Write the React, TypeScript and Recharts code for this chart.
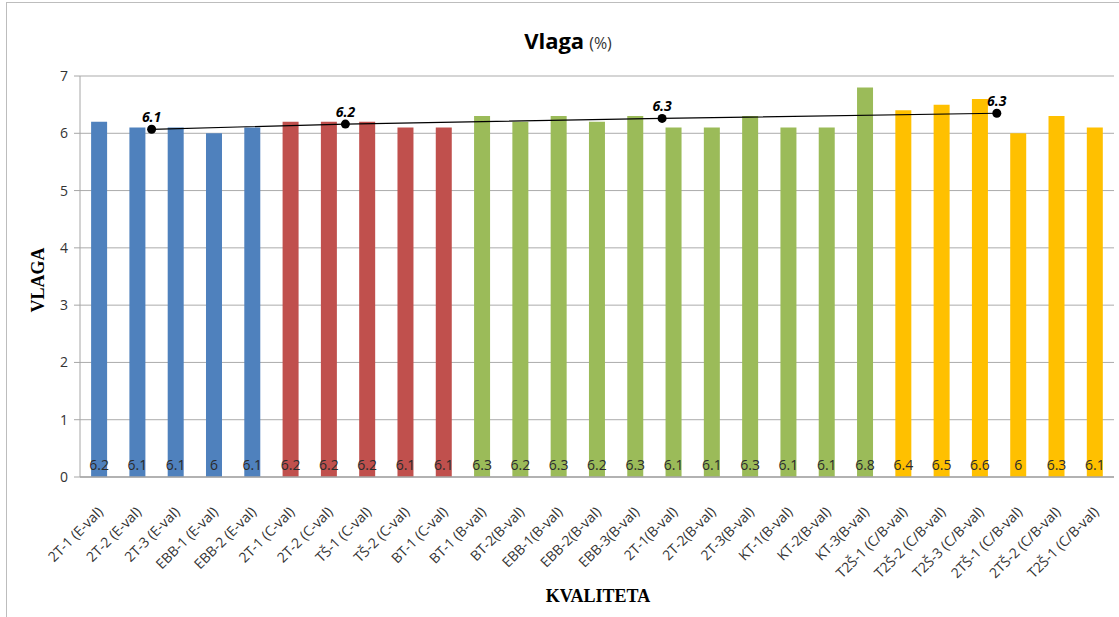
import React from 'react';
import {
  ComposedChart,
  Bar,
  Scatter,
  XAxis,
  YAxis,
  CartesianGrid,
  Cell,
  LabelList,
} from 'recharts';

const categories = [
  '2T-1 (E-val)', '2T-2 (E-val)', '2T-3 (E-val)', 'EBB-1 (E-val)', 'EBB-2 (E-val)',
  '2T-1 (C-val)', '2T-2 (C-val)', 'TŠ-1 (C-val)', 'TŠ-2 (C-val)', 'BT-1 (C-val)',
  'BT-1 (B-val)', 'BT-2(B-val)', 'EBB-1(B-val)', 'EBB-2(B-val)', 'EBB-3(B-val)',
  '2T-1(B-val)', '2T-2(B-val)', '2T-3(B-val)', 'KT-1(B-val)', 'KT-2(B-val)', 'KT-3(B-val)',
  'T2Š-1 (C/B-val)', 'T2Š-2 (C/B-val)', 'T2Š-3 (C/B-val)', '2TŠ-1 (C/B-val)',
  '2TŠ-2 (C/B-val)', 'T2Š-1 (C/B-val)',
];

const moisture = [
  6.2, 6.1, 6.1, 6, 6.1,
  6.2, 6.2, 6.2, 6.1, 6.1,
  6.3, 6.2, 6.3, 6.2, 6.3, 6.1, 6.1, 6.3, 6.1, 6.1, 6.8,
  6.4, 6.5, 6.6, 6, 6.3, 6.1,
];

const groups = [
  'E', 'E', 'E', 'E', 'E',
  'C', 'C', 'C', 'C', 'C',
  'B', 'B', 'B', 'B', 'B', 'B', 'B', 'B', 'B', 'B', 'B',
  'CB', 'CB', 'CB', 'CB', 'CB', 'CB',
];

// group averages, placed along the category span (in category units)
const avgPos = [1.87, 6.93, 15.2, 23.94];
const avgValues = [6.07, 6.16, 6.26, 6.35];
const avgLabels = ['6.1', '6.2', '6.3', '6.3'];

const yTicks = [0, 1, 2, 3, 4, 5, 6, 7];

const groupColors: Record<string, string> = {
  E: '#4F81BD',
  C: '#C0504D',
  B: '#9BBB59',
  CB: '#FFC000',
};

const barData = categories.map((name, i) => ({ name, value: moisture[i], group: groups[i] }));
const avgData = avgPos.map((x, i) => ({ x, y: avgValues[i], label: avgLabels[i] }));

const XTick = (props: any) => {
  const { x, y, payload } = props;
  return (
    <g transform={`translate(${x + 2},${y + 25})`}>
      <text
        textAnchor="end"
        transform="rotate(-45)"
        fontSize={14}
        fill="#333"
        fontFamily="'Open Sans', sans-serif"
        dy={4}
      >
        {payload.value}
      </text>
    </g>
  );
};

const YTick = (props: any) => {
  const { x, y, payload } = props;
  return (
    <text
      x={x}
      y={y}
      dy={5}
      textAnchor="end"
      fontSize={14}
      fill="#333"
      fontFamily="'Open Sans', sans-serif"
    >
      {payload.value}
    </text>
  );
};

const AvgLabel = (props: any) => {
  const { x, y, width, height, value } = props;
  const cx = x + (width || 0) / 2;
  const cy = y + (height || 0) / 2;
  return (
    <text
      x={cx}
      y={cy - 7}
      textAnchor="middle"
      fontSize={14}
      fontWeight="bold"
      fontStyle="italic"
      fill="#000"
      fontFamily="'Open Sans', sans-serif"
    >
      {value}
    </text>
  );
};

const Dot = (props: any) => <circle cx={props.cx} cy={props.cy} r={4.5} fill="#000" />;

export default function App() {
  return (
    <div style={styles.page}>
      <div style={styles.frame} />
      <ComposedChart
        width={1119}
        height={617}
        data={barData}
        margin={{ top: 76, right: 5, left: 40, bottom: 40 }}
        barCategoryGap="29%"
      >
        <CartesianGrid xAxisId="cat" vertical={false} stroke="#ABABAB" strokeWidth={1} />
        <XAxis
          xAxisId="cat"
          dataKey="name"
          interval={0}
          tick={<XTick />}
          tickLine={false}
          axisLine={{ stroke: '#A6A6A6', strokeWidth: 1.5 }}
          height={100}
        />
        <XAxis
          xAxisId="num"
          type="number"
          dataKey="x"
          domain={[0, 27]}
          hide
        />
        <YAxis
          dataKey="y"
          domain={[0, 7]}
          ticks={yTicks}
          width={40}
          tick={<YTick />}
          tickLine={{ stroke: '#A6A6A6' }}
          tickSize={6}
          tickMargin={6}
          axisLine={{ stroke: '#A6A6A6' }}
        />
        <Bar dataKey="value" xAxisId="cat" isAnimationActive={false}>
          {barData.map((d, i) => (
            <Cell key={`c-${i}`} fill={groupColors[d.group]} />
          ))}
          <LabelList
            dataKey="value"
            position="insideBottom"
            offset={7}
            fill="#2b2b2b"
            fontSize={14}
            fontFamily="'Open Sans', sans-serif"
          />
        </Bar>
        <Scatter
          data={avgData}
          xAxisId="num"
          dataKey="y"
          line={{ stroke: '#000', strokeWidth: 1.2 }}
          shape={<Dot />}
          isAnimationActive={false}
        >
          <LabelList dataKey="label" content={<AvgLabel />} />
        </Scatter>
        <text
          x={568}
          y={49}
          textAnchor="middle"
          fontFamily="'Open Sans', sans-serif"
          fill="#000"
        >
          <tspan fontSize={22} fontWeight="bold">Vlaga</tspan>
          <tspan fontSize={16} dx={5} fill="#333">(%)</tspan>
        </text>
        <text
          x={44}
          y={280}
          transform="rotate(-90, 44, 280)"
          textAnchor="middle"
          fontFamily="'Liberation Serif', 'DejaVu Serif', serif"
          fontWeight="bold"
          fontSize={18}
          fill="#000"
        >
          VLAGA
        </text>
        <text
          x={598}
          y={602}
          textAnchor="middle"
          fontFamily="'Liberation Serif', 'DejaVu Serif', serif"
          fontWeight="bold"
          fontSize={18}
          fill="#000"
        >
          KVALITETA
        </text>
      </ComposedChart>
    </div>
  );
}

const styles = {
  page: {
    position: 'absolute' as const,
    left: 0,
    top: 0,
    width: 1119,
    height: 617,
    overflow: 'hidden',
    background: '#fff',
  },
  frame: {
    position: 'absolute' as const,
    left: 6,
    top: 2,
    width: 1130,
    height: 630,
    border: '1px solid #BDBDBD',
  },
};
